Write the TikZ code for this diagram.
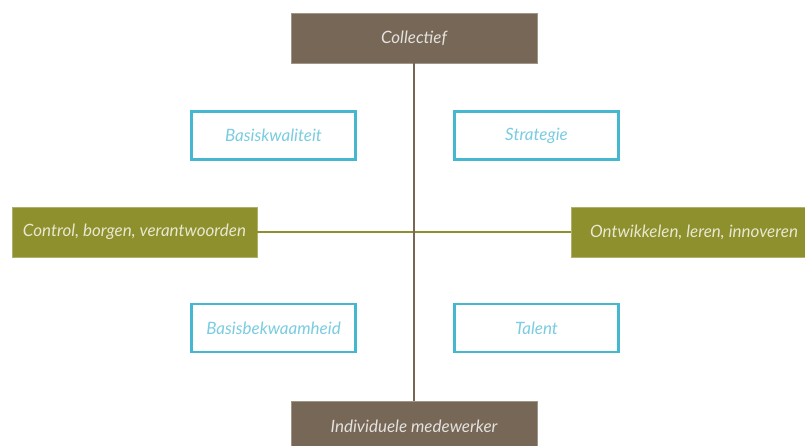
\documentclass[tikz,border=0pt]{standalone}
\usepackage{fontspec}
\setmainfont{Lato}
\definecolor{brownbox}{HTML}{776757}
\definecolor{olivebox}{HTML}{8E8F2D}
\definecolor{cyanline}{HTML}{45B8D0}
\definecolor{cyantext}{HTML}{7ACCE0}
\definecolor{lighttext}{HTML}{E4E2DE}
\definecolor{olivetext}{HTML}{E8E8D0}
\begin{document}
\begin{tikzpicture}[x=1pt,y=-1pt,
  brownnode/.style={fill=brownbox, draw=brownbox!70!white, line width=0.6pt, minimum width=246pt, minimum height=50pt, inner sep=0pt, text=lighttext, font=\fontsize{17}{20}\selectfont\itshape},
  olivenode/.style={fill=olivebox, draw=olivebox!70!white, line width=0.6pt, minimum width=245pt, minimum height=50pt, inner sep=0pt, text=olivetext, font=\fontsize{17}{20}\selectfont\itshape},
  cyannode/.style={fill=white, draw=cyanline, line width=2.6pt, minimum width=164pt, minimum height=48pt, inner sep=0pt, text=cyantext, font=\fontsize{17}{20}\selectfont\itshape},
  brownline/.style={draw=brownbox, line width=2.2pt},
  oliveline/.style={draw=olivebox, line width=2.2pt}]
\useasboundingbox (0,0) rectangle (805,446);
\clip (0,0) rectangle (805,446);
\node[brownnode] (top) at (414,38) {Collectief};
\node[brownnode] (bottom) at (414,426) {Individuele medewerker};
\node[olivenode] (left) at (134.5,232) {Control, borgen, verantwoorden};
\node[olivenode] (right) at (694,232) {Ontwikkelen, leren, innoveren};
\node[cyannode] (bk) at (273.5,135.5) {Basiskwaliteit};
\node[cyannode] (st) at (536.5,135.5) {Strategie};
\node[cyannode] (bb) at (273.5,328) {Basisbekwaamheid};
\node[cyannode] (ta) at (536.5,328) {Talent};
\draw[oliveline] (left.east) -- (right.west);
\draw[brownline] (top.south) -- (bottom.north);
\end{tikzpicture}
\end{document}
